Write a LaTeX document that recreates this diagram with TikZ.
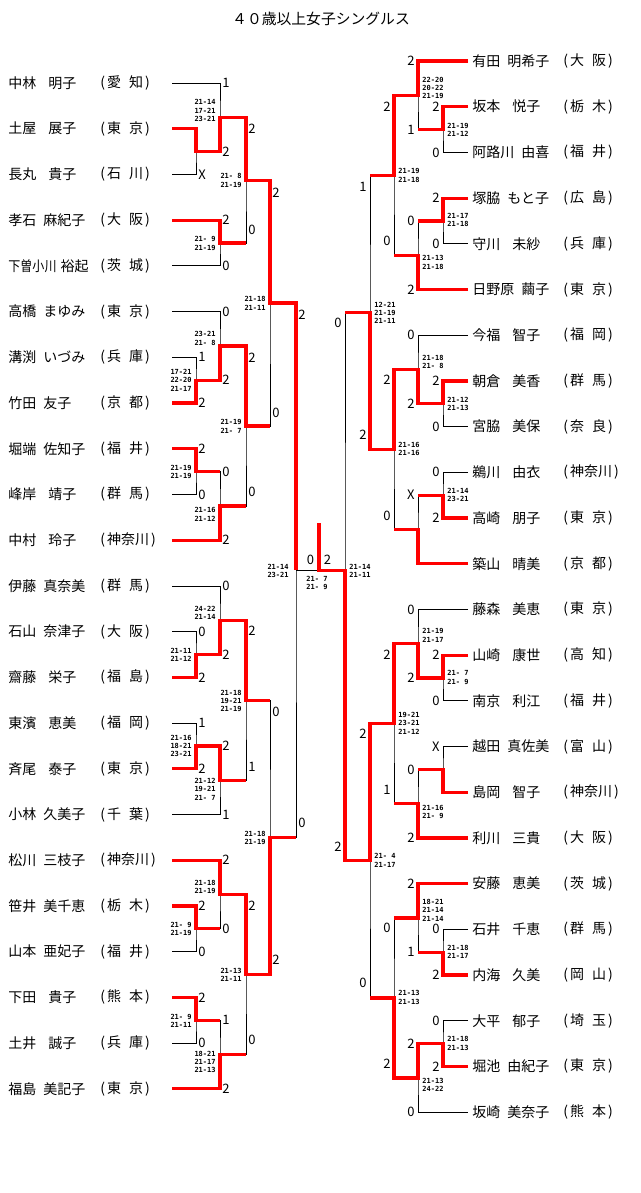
\documentclass[tikz,border=0pt]{standalone}
\usepackage{graphicx}
\usepackage{fontspec}
\setmainfont{Noto Sans CJK JP}
\newfontfamily\scorefont{DejaVu Sans Mono}
\newcommand{\ws}{\hspace{12pt}}
\newcommand{\ns}{\hspace{7pt}}
\newcommand{\ps}{\hspace{8pt}}

\begin{document}
\begin{tikzpicture}[
		x=1pt, y=-1pt,
		line width=0.8pt,
		win/.style = {red, line width=3.2pt},
		player/.style = {anchor=west, inner sep=0pt, font=\fontsize{14}{14}\selectfont},
		pt/.style = {inner sep=0pt, font=\fontsize{13}{13}\selectfont},
		ptl/.style = {pt, anchor=west, xshift=2pt},
		ptr/.style = {pt, anchor=east, xshift=-3pt},
		games/.style = {inner sep=0pt, font=\scorefont\bfseries\fontsize{7}{8.4}\selectfont},
		gl/.style = {games, anchor=east, align=right, xshift=-4pt},
		gr/.style = {games, anchor=west, align=left, xshift=4pt}
	]
	\useasboundingbox (0,0) rectangle (640,1193);
	\node[inner sep=0pt, font=\fontsize{14.8}{15}\selectfont] (title) at (321,19) {４０歳以上女子シングルス};

	\foreach \pname/\pref [count=\i] in {
			中林\ws 明子/愛\ps 知, 土屋\ws 展子/東\ps 京, 長丸\ws 貴子/石\ps 川,
			孝石\ns 麻紀子/大\ps 阪, \scalebox{0.86}[1]{下曽小川}\hspace{4pt}裕起/茨\ps 城, 高橋\ns まゆみ/東\ps 京,
			溝渕\ns いづみ/兵\ps 庫, 竹田\ns 友子/京\ps 都, 堀端\ns 佐知子/福\ps 井,
			峰岸\ws 靖子/群\ps 馬, 中村\ws 玲子/神奈川, 伊藤\ns 真奈美/群\ps 馬,
			石山\ns 奈津子/大\ps 阪, 齋藤\ws 栄子/福\ps 島, 東濱\ws 恵美/福\ps 岡,
			斉尾\ws 泰子/東\ps 京, 小林\ns 久美子/千\ps 葉, 松川\ns 三枝子/神奈川,
			笹井\ns 美千恵/栃\ps 木, 山本\ns 亜妃子/福\ps 井, 下田\ws 貴子/熊\ps 本,
			土井\ws 誠子/兵\ps 庫, 福島\ns 美記子/東\ps 京}{
		\node[player] (ln\i) at (8,{83+45.72*(\i-1)}) {\pname};
		\node[player] (lp\i) at (100,{83+45.72*(\i-1)}) {(\kern2pt\pref\kern2pt)};
		\coordinate (la\i) at (172,{83+45.72*(\i-1)});
	}
	\foreach \pname/\pref [count=\i] in {
			有田\ns 明希子/大\ps 阪, 坂本\ws 悦子/栃\ps 木, 阿路川\ns 由喜/福\ps 井,
			塚脇\ns もと子/広\ps 島, 守川\ws 未紗/兵\ps 庫, 日野原\ns 繭子/東\ps 京,
			今福\ws 智子/福\ps 岡, 朝倉\ws 美香/群\ps 馬, 宮脇\ws 美保/奈\ps 良,
			鵜川\ws 由衣/神奈川, 高崎\ws 朋子/東\ps 京, 築山\ws 晴美/京\ps 都,
			藤森\ws 美恵/東\ps 京, 山崎\ws 康世/高\ps 知, 南京\ws 利江/福\ps 井,
			越田\ns 真佐美/富\ps 山, 島岡\ws 智子/神奈川, 利川\ws 三貴/大\ps 阪,
			安藤\ws 恵美/茨\ps 城, 石井\ws 千恵/群\ps 馬, 内海\ws 久美/岡\ps 山,
			大平\ws 郁子/埼\ps 玉, 堀池\ns 由紀子/東\ps 京, 坂崎\ns 美奈子/熊\ps 本}{
		\node[player] (rn\i) at (472,{61+45.7*(\i-1)}) {\pname};
		\node[player] (rp\i) at (563,{61+45.7*(\i-1)}) {(\kern2pt\pref\kern2pt)};
		\coordinate (ra\i) at (468,{61+45.7*(\i-1)});
	}

	\coordinate (m1) at (196,151.6);
	\coordinate (m2) at (220,117.3);
	\coordinate (m3) at (220,243.0);
	\coordinate (m4) at (246,180.2);
	\coordinate (m5) at (196,380.2);
	\coordinate (m6) at (220,345.9);
	\coordinate (m7) at (196,471.6);
	\coordinate (m8) at (220,505.9);
	\coordinate (m9) at (246,425.9);
	\coordinate (m10) at (270,303.0);
	\coordinate (m11) at (196,654.5);
	\coordinate (m12) at (220,620.2);
	\coordinate (m13) at (196,745.9);
	\coordinate (m14) at (220,780.2);
	\coordinate (m15) at (246,700.2);
	\coordinate (m16) at (196,928.8);
	\coordinate (m17) at (220,894.5);
	\coordinate (m18) at (196,1020.2);
	\coordinate (m19) at (220,1054.5);
	\coordinate (m20) at (246,974.5);
	\coordinate (m21) at (270,837.3);
	\coordinate (m22) at (296,570.2);
	\coordinate (n1) at (443,129.6);
	\coordinate (n2) at (418,95.3);
	\coordinate (n3) at (443,221.0);
	\coordinate (n4) at (418,255.3);
	\coordinate (n5) at (394,175.3);
	\coordinate (n6) at (443,403.8);
	\coordinate (n7) at (418,369.5);
	\coordinate (n8) at (443,495.2);
	\coordinate (n9) at (418,529.5);
	\coordinate (n10) at (394,449.5);
	\coordinate (n11) at (370,312.4);
	\coordinate (n12) at (443,678.0);
	\coordinate (n13) at (418,643.7);
	\coordinate (n14) at (443,769.4);
	\coordinate (n15) at (418,803.7);
	\coordinate (n16) at (394,723.7);
	\coordinate (n17) at (443,952.2);
	\coordinate (n18) at (418,917.9);
	\coordinate (n19) at (443,1043.6);
	\coordinate (n20) at (418,1077.9);
	\coordinate (n21) at (394,997.9);
	\coordinate (n22) at (370,860.8);
	\coordinate (n23) at (345,570.2);
	\coordinate (fin) at (319,570.2);
	\coordinate (champ) at (319,523);

	\draw (la2) -| (m1) |- (la3);
	\draw (la1) -| (m2) |- (m1);
	\draw (la4) -| (m3) |- (la5);
	\draw (m2) -| (m4) |- (m3);
	\draw (la7) -| (m5) |- (la8);
	\draw (la6) -| (m6) |- (m5);
	\draw (la9) -| (m7) |- (la10);
	\draw (m7) -| (m8) |- (la11);
	\draw (m6) -| (m9) |- (m8);
	\draw (m4) -| (m10) |- (m9);
	\draw (la13) -| (m11) |- (la14);
	\draw (la12) -| (m12) |- (m11);
	\draw (la15) -| (m13) |- (la16);
	\draw (m13) -| (m14) |- (la17);
	\draw (m12) -| (m15) |- (m14);
	\draw (la19) -| (m16) |- (la20);
	\draw (la18) -| (m17) |- (m16);
	\draw (la21) -| (m18) |- (la22);
	\draw (m18) -| (m19) |- (la23);
	\draw (m17) -| (m20) |- (m19);
	\draw (m15) -| (m21) |- (m20);
	\draw (m10) -| (m22) |- (m21);
	\draw (m22) -- (n23);
	\draw (ra2) -| (n1) |- (ra3);
	\draw (ra1) -| (n2) |- (n1);
	\draw (ra4) -| (n3) |- (ra5);
	\draw (n3) -| (n4) |- (ra6);
	\draw (n2) -| (n5) |- (n4);
	\draw (ra8) -| (n6) |- (ra9);
	\draw (ra7) -| (n7) |- (n6);
	\draw (ra10) -| (n8) |- (ra11);
	\draw (n8) -| (n9) |- (ra12);
	\draw (n7) -| (n10) |- (n9);
	\draw (n5) -| (n11) |- (n10);
	\draw (ra14) -| (n12) |- (ra15);
	\draw (ra13) -| (n13) |- (n12);
	\draw (ra16) -| (n14) |- (ra17);
	\draw (n14) -| (n15) |- (ra18);
	\draw (n13) -| (n16) |- (n15);
	\draw (ra20) -| (n17) |- (ra21);
	\draw (ra19) -| (n18) |- (n17);
	\draw (ra22) -| (n19) |- (ra23);
	\draw (n19) -| (n20) |- (ra24);
	\draw (n18) -| (n21) |- (n20);
	\draw (n16) -| (n22) |- (n21);
	\draw (n11) -| (n23) |- (n22);

	\draw[win] (la2) -| (m1) -| (m2) -| (m4) -| (m10) -| (m22);
	\draw[win] (la4) -| (m3) -- (m3 -| m4);
	\draw[win] (la8) -| (m5) -| (m6) -| (m9) -- (m9 -| m10);
	\draw[win] (la9) -| (m7) -- (m7 -| m8);
	\draw[win] (la11) -| (m8) -- (m8 -| m9);
	\draw[win] (la14) -| (m11) -| (m12) -| (m15) -- (m15 -| m21);
	\draw[win] (la16) -| (m13) -| (m14) -- (m14 -| m15);
	\draw[win] (la19) -| (m16) -- (m16 -| m17);
	\draw[win] (la18) -| (m17) -| (m20) -| (m21) -- (m21 -| m22);
	\draw[win] (la21) -| (m18) -- (m18 -| m19);
	\draw[win] (la23) -| (m19) -- (m19 -| m20);
	\draw[win] (ra1) -| (n2) -| (n5) -- (n5 -| n11);
	\draw[win] (ra2) -| (n1) -- (n1 -| n2);
	\draw[win] (ra4) -| (n3) -- (n3 -| n4);
	\draw[win] (ra6) -| (n4) -- (n4 -| n5);
	\draw[win] (ra8) -| (n6) -| (n7) -| (n10) -| (n11) -- (n11 -| n23);
	\draw[win] (ra11) -| (n8) -- (n8 -| n9);
	\draw[win] (ra12) -| (n9) -- (n9 -| n10);
	\draw[win] (ra14) -| (n12) -| (n13) -| (n16) -| (n22) -| (n23) -- (fin) -- (champ);
	\draw[win] (ra17) -| (n14) -- (n14 -| n15);
	\draw[win] (ra18) -| (n15) -- (n15 -| n16);
	\draw[win] (ra21) -| (n17) -- (n17 -| n18);
	\draw[win] (ra19) -| (n18) -- (n18 -| n21);
	\draw[win] (ra23) -| (n19) -| (n20) -| (n21) -- (n21 -| n22);

	\foreach \x/\y/\s [count=\k] in {
			196/174.4/X, 220/83/1, 220/151.6/2, 220/220.2/2, 220/265.9/0,
			246/129/2, 246/230/0, 196/357.3/1, 196/403/2, 220/311.6/0,
			220/380.2/2, 196/448.8/2, 196/494.5/0, 220/471.6/0, 220/540.2/2,
			246/358/2, 246/492/0, 270/193/2, 270/413/0, 196/631.6/0,
			196/677.4/2, 220/585.9/0, 220/654.5/2, 196/723.1/1, 196/768.8/2,
			220/745.9/2, 220/814.5/1, 246/631/2, 246/767/1, 196/906/2,
			196/951.7/0, 220/860.2/2, 220/928.8/0, 196/997.4/2, 196/1043.1/0,
			220/1020.2/1, 220/1088.8/2, 246/906/2, 246/1040/0, 270/712/0,
			270/960/2, 296/315/2, 296/823/0}
		\node[ptl] (ls\k) at (\x,\y) {\s};
	\foreach \x/\y/\s [count=\k] in {
			443/106.7/2, 443/152.4/0, 418/61/2, 418/129.6/1, 443/198.1/2,
			443/243.8/0, 418/221/0, 418/289.5/2, 394/107/2, 394/241/0,
			443/380.9/2, 443/426.6/0, 418/335.2/0, 418/403.8/2, 443/472.3/0,
			443/518/2, 418/495.2/X, 394/380/2, 394/516/0, 370/187/1,
			370/435/2, 443/655.1/2, 443/700.8/0, 418/609.4/0, 418/678/2,
			443/746.5/X, 418/769.4/0, 418/837.9/2, 394/655/2, 394/790/1,
			443/929.3/0, 443/975/2, 418/883.6/2, 418/952.2/1, 443/1020.7/0,
			443/1066.4/2, 418/1043.6/2, 418/1112.1/0, 394/928/0, 394/1064/2,
			370/734/2, 370/983/0, 345/323/0, 345/847/2}
		\node[ptr] (rs\k) at (\x,\y) {\s};
	\node[pt] (fl) at (310.5,560) {0};
	\node[pt] (fr) at (327.5,560) {2};

	\foreach \x/\y/\g [count=\k] in {
			220/110.5/{21-14\\17-21\\23-21}, 220/243.5/{21- 9\\21-19},
			246/180.5/{21- 8\\21-19}, 196/380/{17-21\\22-20\\21-17},
			220/338.5/{23-21\\21- 8}, 196/472/{21-19\\21-19},
			220/514.5/{21-16\\21-12}, 246/426.5/{21-19\\21- 7},
			270/303.5/{21-18\\21-11}, 196/655/{21-11\\21-12},
			220/613/{24-22\\21-14}, 196/746/{21-16\\18-21\\23-21},
			220/789/{21-12\\19-21\\21- 7}, 246/701/{21-18\\19-21\\21-19},
			196/929/{21- 9\\21-19}, 220/887/{21-18\\21-19},
			196/1021/{21- 9\\21-11}, 220/1062/{18-21\\21-17\\21-13},
			246/975/{21-13\\21-11}, 270/838/{21-18\\21-19},
			293/571/{21-14\\23-21}}
		\node[gl] (lg\k) at (\x,\y) {\g};
	\foreach \x/\y/\g [count=\k] in {
			443/130/{21-19\\21-12}, 418/88/{22-20\\20-22\\21-19},
			443/220/{21-17\\21-18}, 418/262.5/{21-13\\21-18},
			394/175.5/{21-19\\21-18}, 443/404/{21-12\\21-13},
			418/362/{21-18\\21- 8}, 443/495/{21-14\\23-21},
			394/449/{21-16\\21-16}, 370/313/{12-21\\21-19\\21-11},
			443/677.5/{21- 7\\21- 9}, 418/635.5/{21-19\\21-17},
			418/812/{21-16\\21- 9}, 394/723/{19-21\\23-21\\21-12},
			443/952/{21-18\\21-17}, 418/910/{18-21\\21-14\\21-14},
			443/1043.5/{21-18\\21-13}, 418/1085/{21-13\\24-22},
			394/997.5/{21-13\\21-13}, 370/860.5/{21- 4\\21-17},
			345/571/{21-14\\21-11}}
		\node[gr] (rg\k) at (\x,\y) {\g};
	\node[games, align=center] (fg) at (317,583) {21- 7\\21- 9};
\end{tikzpicture}
\end{document}
